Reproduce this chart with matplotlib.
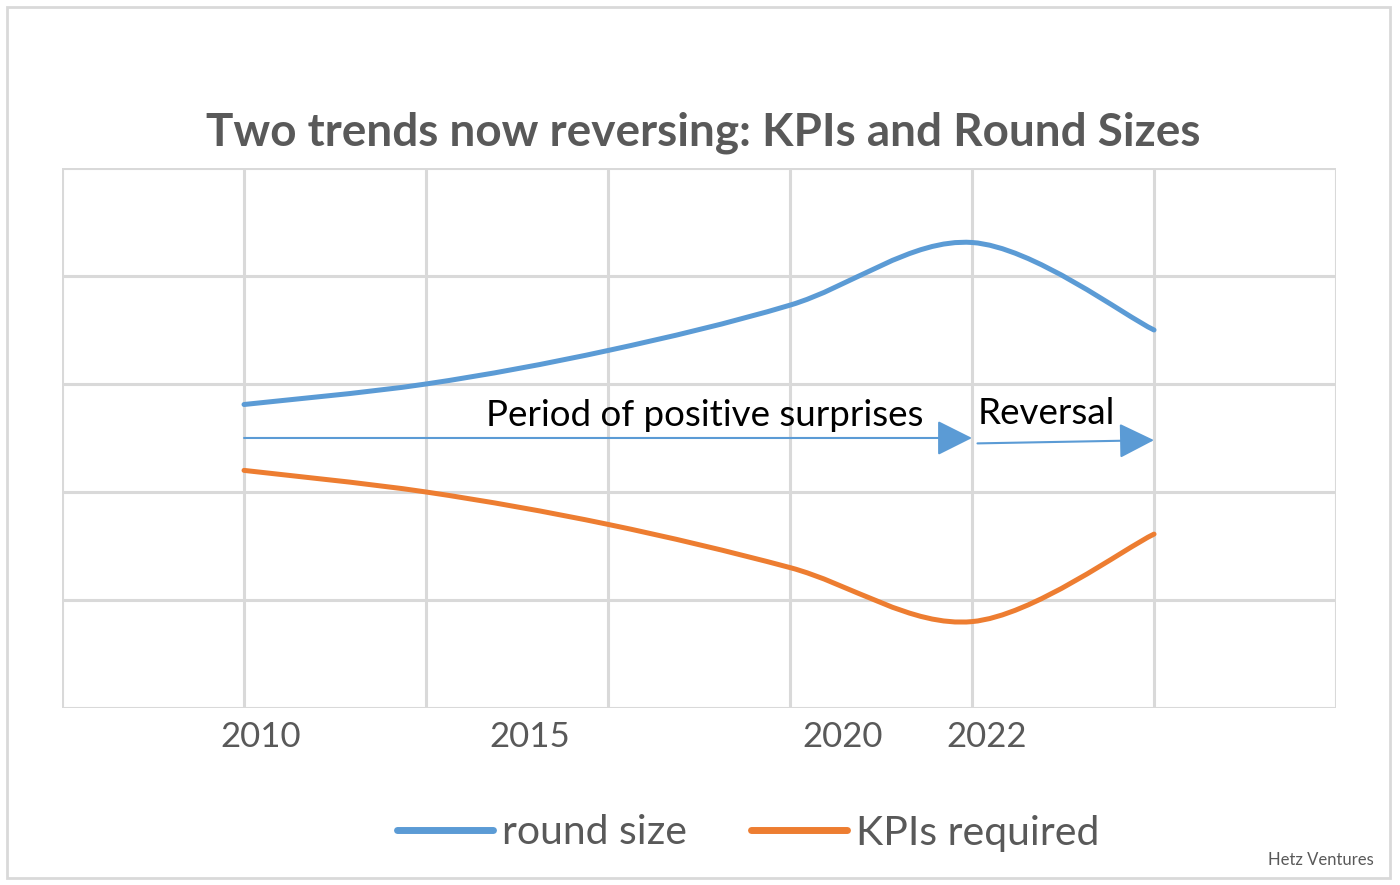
import numpy as np
import matplotlib
matplotlib.use("Agg")
import matplotlib.pyplot as plt
from matplotlib.path import Path
from matplotlib.patches import PathPatch, Rectangle
from matplotlib.lines import Line2D

plt.rcParams['font.family'] = ['Lato', 'DejaVu Sans']

# category positions (one per gridline slot) and values
x_pos = [1, 2, 3, 4, 5, 6]
round_size = [2.81, 3.0, 3.31, 3.73, 4.31, 3.5]
kpis_required = [2.20, 2.0, 1.70, 1.30, 0.80, 1.61]

tick_labels = ["2010", "2015", "2020", "2022"]
tick_label_x = [1.09, 2.57, 4.29, 5.08]

blue = "#5B9BD5"
orange = "#ED7D31"
grey_text = "#595959"
grid_col = "#D9D9D9"


def smooth_path(xs, ys):
    # excel-like smoothed line: bezier segments with catmull-rom control points
    xs = np.asarray(xs, float)
    ys = np.asarray(ys, float)
    n = len(xs)
    verts = [(xs[0], ys[0])]
    codes = [Path.MOVETO]
    for i in range(n - 1):
        i0 = max(i - 1, 0)
        i3 = min(i + 2, n - 1)
        c1 = (xs[i] + (xs[i + 1] - xs[i0]) / 6, ys[i] + (ys[i + 1] - ys[i0]) / 6)
        c2 = (xs[i + 1] - (xs[i3] - xs[i]) / 6, ys[i + 1] - (ys[i3] - ys[i]) / 6)
        verts += [c1, c2, (xs[i + 1], ys[i + 1])]
        codes += [Path.CURVE4] * 3
    return Path(verts, codes)


fig = plt.figure(figsize=(14, 8.85), dpi=100)
ax = fig.add_axes([0.0443, 0.2, 0.9100, 0.6102])
ax.set_xlim(0, 7)
ax.set_ylim(0, 5)

# grid
for gx in range(8):
    ax.axvline(gx, color=grid_col, lw=2.2, zorder=0)
for gy in range(6):
    ax.axhline(gy, color=grid_col, lw=2.2, zorder=0)
for s in ax.spines.values():
    s.set_visible(False)
ax.set_xticks([])
ax.set_yticks([])

for vals, col in [(round_size, blue), (kpis_required, orange)]:
    ax.add_patch(PathPatch(smooth_path(x_pos, vals), fill=False, edgecolor=col,
                           lw=3.6, capstyle='round', zorder=3))

# arrows
arrow_style = "-|>,head_length=1.1,head_width=0.55"
ax.annotate("", xy=(5.0, 2.5), xytext=(1.0, 2.5),
            arrowprops=dict(arrowstyle=arrow_style, color=blue, lw=1.5,
                            shrinkA=0, shrinkB=0, mutation_scale=20))
ax.annotate("", xy=(6.0, 2.48), xytext=(5.03, 2.45),
            arrowprops=dict(arrowstyle=arrow_style, color=blue, lw=1.5,
                            shrinkA=0, shrinkB=0, mutation_scale=20))

ax.text(3.53, 2.71, "Period of positive surprises", fontsize=26.5, color="black",
        ha="center", va="center")
ax.text(5.41, 2.73, "Reversal", fontsize=26.5, color="black", ha="center", va="center")

for lab, lx in zip(tick_labels, tick_label_x):
    ax.text(lx, -0.27, lab, fontsize=25, color=grey_text, ha="center", va="center")

fig.text(0.502, 1 - 133 / 885, "Two trends now reversing: KPIs and Round Sizes",
         fontsize=33, fontweight="bold", color=grey_text, ha="center", va="center")

handles = [Line2D([], [], color=blue, lw=5, solid_capstyle='round'),
           Line2D([], [], color=orange, lw=5, solid_capstyle='round')]
fig.legend(handles, ["round size", "KPIs required"], loc="center",
           bbox_to_anchor=(0.5345, 1 - 833 / 885), ncol=2, frameon=False,
           fontsize=29.5, labelcolor=grey_text, handlelength=2.35, handletextpad=0.22,
           columnspacing=1.55)

fig.text(0.981, 1 - 860 / 885, "Hetz Ventures", fontsize=12, color=grey_text,
         ha="right", va="center")

fig.patches.append(Rectangle((7 / 1400, 1 - 878 / 885), 1383 / 1400, 871 / 885,
                             transform=fig.transFigure, fill=False,
                             edgecolor=grid_col, lw=2))

fig.savefig("out.png", dpi=100)
